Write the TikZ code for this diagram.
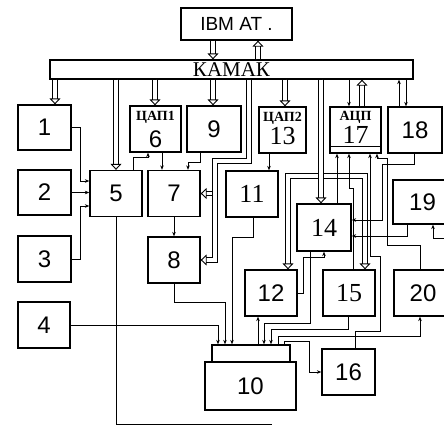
\documentclass[tikz,border=0pt]{standalone}
\usepackage{fontspec}
\setmainfont{Liberation Serif}
\newfontfamily\sansfam{Liberation Sans}
\usetikzlibrary{arrows.meta,positioning}
\newcommand{\numsans}{\fontsize{24}{24}\selectfont\sansfam}
\newcommand{\numserif}{\fontsize{26}{26}\selectfont\rmfamily}
\newcommand{\daclab}{\fontsize{14}{14}\selectfont\bfseries\rmfamily}

\begin{document}
\begin{tikzpicture}[x=1pt, y=-1pt,
    blk/.style={rectangle, draw, line width=1.3pt, minimum width=52pt, minimum height=46pt, inner sep=0pt, align=center, font=\numsans},
    tag/.style={inner sep=0pt, font=\daclab},
    num/.style={inner sep=0pt, font=\numsans},
    wire/.style={line width=1pt, -{Stealth[length=4.5pt, width=3.5pt]}},
    link/.style={line width=1pt},
    dbl/.style={double, double distance=3.6pt, line width=0.9pt, -{Triangle[open, length=6pt, width=11pt]}}
]
\useasboundingbox (0,0) rectangle (444,426);

% Computer and crate bus
\node[blk, minimum width=111pt, minimum height=32pt, font=\fontsize{19}{19}\selectfont\sansfam] (ibm) at (236.5,24) {IBM AT .};
\node[blk, minimum width=363pt, minimum height=19pt, font=\fontsize{21}{21}\selectfont\rmfamily] (kamak) at (231.5,69.5) {КАМАК};

% Left column
\node[blk, minimum width=53pt, minimum height=45pt] (b1) at (44.5,127.5) {1};
\node[blk, minimum width=53pt, minimum height=45pt] (b2) at (44.5,192.5) {2};
\node[blk, minimum width=53pt, minimum height=46pt] (b3) at (44.5,259) {3};
\node[blk, minimum width=52pt, minimum height=46pt] (b4) at (44,325) {4};

% Modules
\node[blk] (b5) at (116,193.5) {5};
\node[blk, minimum width=51pt] (b6) at (155.5,129) {};
\node[tag, below=6pt of b6.north] (t6) {ЦАП1};
\node[num, above=5pt of b6.south] (n6) {6};
\node[blk, minimum width=54pt] (b9) at (214,129) {9};
\node[blk] (b7) at (174,193.5) {7};
\node[blk] (b8) at (174,260) {8};
\node[blk, font=\numserif] (b11) at (252,194) {11};
\node[blk, minimum width=47pt] (b13) at (282.5,130) {};
\node[tag, below=6pt of b13.north] (t13) {ЦАП2};
\node[num, font=\numserif, above=9pt of b13.south] (n13) {13};
\node[blk, minimum width=51pt] (b17) at (355.5,130) {};
\node[tag, below=5pt of b17.north] (t17) {АЦП};
\node[num, font=\numserif, above=10pt of b17.south] (n17) {17};
\draw[link] (b17.west |- 0,146) -- (b17.east |- 0,146);
\node[blk, minimum width=54pt] (b18) at (415,130) {18};
\node[blk, minimum width=59pt, minimum height=44pt] (b19) at (422.5,202) {19};
\node[blk, minimum width=54pt, minimum height=47pt, font=\numserif] (b14) at (324,227.5) {14};
\node[blk] (b12) at (271,293) {12};
\node[blk, font=\numserif] (b15) at (349,293) {15};
\node[blk, minimum width=58pt] (b20) at (423,293) {20};
\node[blk, minimum width=53pt] (b16) at (348.5,372) {16};
\node[blk, minimum width=78pt, minimum height=17pt] (up10) at (251,353.5) {};
\node[blk, minimum width=91pt, minimum height=48pt] (b10) at (250.5,386) {10};

% Bus lines
\draw[dbl] (ibm.south -| 213,0) -- (kamak.north -| 213,0);
\draw[dbl] (kamak.north -| 258,0) -- (ibm.south -| 258,0);
\draw[dbl] (kamak.south -| 55,0) -- (b1.north -| 55,0);
\draw[dbl] (kamak.south -| 116,0) -- (b5.north -| 116,0);
\draw[dbl] (kamak.south -| 155,0) -- (b6.north -| 155,0);
\draw[dbl] (kamak.south -| 213,0) -- (b9.north -| 213,0);
\draw[dbl] (kamak.south -| 285,0) -- (b13.north -| 285,0);
\draw[dbl] (b17.north -| 362,0) -- (kamak.south -| 362,0);
\draw[dbl] (215,193.5) -- (b7.east);
\draw[dbl] (kamak.south -| 249,0) -- (249,161) -- (215,161) -- (215,260) -- (b8.east);
\draw[dbl] (321,176) -- (288,176) -- (b12.north -| 288,0);
\draw[dbl] (321,176) -- (365,176) -- (b15.north -| 365,0);
\draw[dbl] (kamak.south -| 321,0) -- (b14.north -| 321,0);
\draw[wire] (kamak.south -| 349,0) -- (b17.north -| 349,0);
\draw[wire] (kamak.south -| 406,0) -- (b18.north -| 406,0);
\draw[wire] (b18.north -| 399,0) -- (kamak.south -| 399,0);

% Signal lines
\draw[wire] (b1.east) -- (80,127.5) -- (80,181) -- (b5.west |- 0,181);
\draw[wire] (b2.east) -- (b5.west |- b2.east);
\draw[wire] (b3.east) -- (80,259) -- (80,206) -- (b5.west |- 0,206);
\draw[wire] (b4.east) -- (218,325) -- (up10.north -| 218,0);
\draw[link] (b5.south) -- (116,424) -- (272,424) coordinate (tail);
\draw[wire] (b5.north -| 133,0) -- (133,157) -- (148,157) -- (b6.south -| 148,0);
\draw[wire] (b6.south -| 162,0) -- (b7.north -| 162,0);
\draw[wire] (b9.south -| 200,0) -- (200,162) -- (188,162) -- (b7.north -| 188,0);
\draw[wire] (b7.south) -- (b8.north);
\draw[wire] (b8.south) -- (174,302) -- (225,302) -- (up10.north -| 225,0);
\draw[wire] (b11.south -| 253,0) -- (253,237) -- (232,237) -- (up10.north -| 232,0);
\draw[wire] (b13.south -| 269,0) -- (b11.north -| 269,0);
\draw[wire] (up10.north -| 258,0) -- (b12.south -| 258,0);
\draw[wire] (b12.east) -- (303,293) -- (303,257) -- (324,257) -- (b14.south);
\draw[wire] (b14.south -| 310,0) -- (310,323) -- (264,323) -- (up10.north -| 264,0);
\draw[wire] (b15.south -| 348,0) -- (348,329) -- (271,329) -- (up10.north -| 271,0);
\draw[wire] (up10.north -| 278,0) -- (278,336) -- (420,336) -- (b20.south -| 420,0);
\draw[wire] (up10.north -| 284,0) -- (284,341) -- (309,341) |- (b16.west);
\draw[wire] (b16.north -| 355,0) -- (355,331) -- (380,331) -- (380,256) -- (370,256) -- (b17.south -| 370,0);
\draw[wire] (b20.north -| 420,0) -- (420,245) -- (387,245) -- (387,158) -- (377,158) -- (b17.south -| 377,0);
\draw[wire] (b18.south -| 414,0) -- (414,164) -- (382,164) -- (382,220) -- (b14.east |- 0,220);
\draw[wire] (b19.south -| 407,0) -- (407,236) -- (b14.east |- 0,236);
\draw[wire] (b14.north -| 337,0) -- (b17.south -| 337,0);
\draw[wire] (b15.north -| 353,0) -- (353,188) -- (349,188) -- (b17.south -| 349,0);
\coordinate (edge19) at (446,238);
\draw[wire] (edge19) -- (433,238) -- (b19.south -| 433,0);
\end{tikzpicture}
\end{document}
